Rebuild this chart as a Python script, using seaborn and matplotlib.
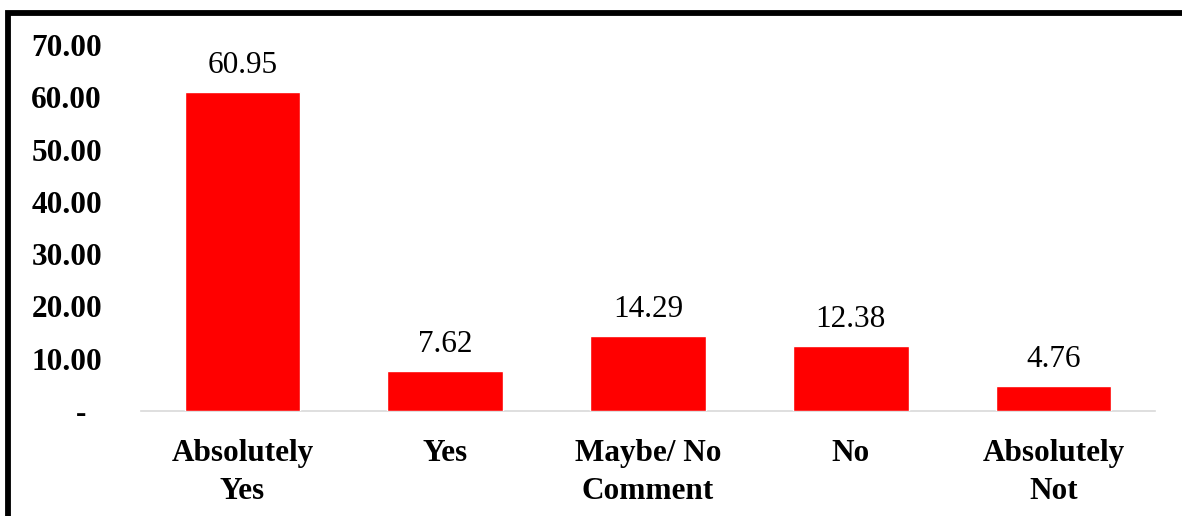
import matplotlib
matplotlib.use("Agg")
import matplotlib.pyplot as plt
from matplotlib.patches import Rectangle
import seaborn as sns
import pandas as pd

categories = ["Absolutely\nYes", "Yes", "Maybe/ No\nComment", "No", "Absolutely\nNot"]
values = [60.95, 7.62, 14.29, 12.38, 4.76]
y_ticks = [0, 10, 20, 30, 40, 50, 60, 70]
y_tick_labels = ["-  ", "10.00", "20.00", "30.00", "40.00", "50.00", "60.00", "70.00"]

sns.set_theme(style="white")
plt.rcParams["font.family"] = ["Liberation Serif", "DejaVu Serif"]
plt.rcParams["text.color"] = "black"
plt.rcParams["xtick.color"] = "black"
plt.rcParams["ytick.color"] = "black"

df = pd.DataFrame({"category": categories, "value": values})

W, H = 1182, 516
fig = plt.figure(figsize=(W / 100, H / 100), dpi=100)
ax = fig.add_axes([141 / W, (H - 411) / H, 1014 / W, 366 / H])

sns.barplot(data=df, x="category", y="value", color="#ff0000", saturation=1,
            width=0.57, ax=ax, zorder=3)

ax.set_ylim(0, 70)
ax.set_xlim(-0.5, len(categories) - 0.5)
ax.set_yticks(y_ticks)
ax.set_yticklabels(y_tick_labels, fontsize=22.5, fontweight="bold", color="black")
ax.tick_params(axis="y", length=0, pad=28)
ax.tick_params(axis="x", length=0, pad=20, labelsize=22.5, labelcolor="black")
for lbl in ax.get_xticklabels():
    lbl.set_fontweight("bold")
    lbl.set_linespacing(1.4)
ax.set_xlabel("")
ax.set_ylabel("")

for side in ["top", "right", "left"]:
    ax.spines[side].set_visible(False)
ax.spines["bottom"].set_color("#d9d9d9")
ax.spines["bottom"].set_linewidth(1.2)

for container in ax.containers:
    ax.bar_label(container, labels=[f"{v:.2f}" for v in values],
                 padding=9, fontsize=22.5, color="black")

# outer frame around the chart area
fig.patches.append(Rectangle((8 / W, -0.1), (1184 - 8) / W, 1.1 - 12.5 / H,
                             transform=fig.transFigure, fill=False,
                             edgecolor="black", linewidth=4.2, zorder=10))

fig.savefig("out.png", dpi=100)
